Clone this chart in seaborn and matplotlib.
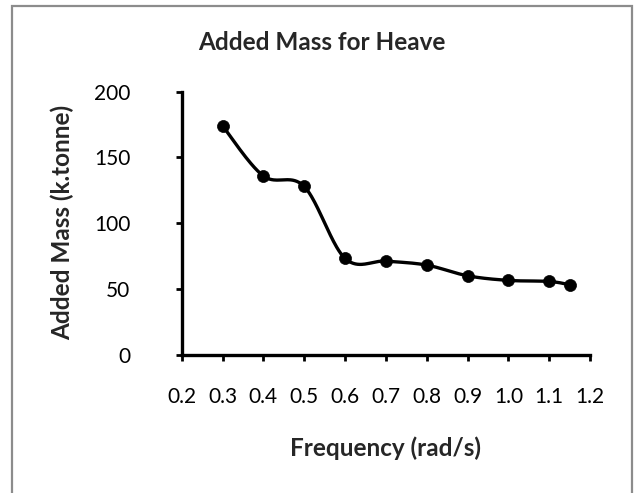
import numpy as np
import pandas as pd
import matplotlib
matplotlib.use("Agg")
import matplotlib.pyplot as plt
import seaborn as sns
from matplotlib.patches import Rectangle

# ---- data ----
frequency = [0.3, 0.4, 0.5, 0.6, 0.7, 0.8, 0.9, 1.0, 1.1, 1.15]
added_mass = [174, 136, 128, 73.5, 71.4, 68.4, 60.3, 56.8, 56, 53.5]
x_ticks = [0.2, 0.3, 0.4, 0.5, 0.6, 0.7, 0.8, 0.9, 1.0, 1.1, 1.2]
y_ticks = [0, 50, 100, 150, 200]
title = "Added Mass for Heave"
x_label = "Frequency (rad/s)"
y_label = "Added Mass (k.tonne)"


def excel_smooth(xs, ys, n=40):
    """Bezier smoothing like a spreadsheet's 'smoothed line' option."""
    P = np.column_stack([xs, ys]).astype(float)
    ext = np.vstack([P[0], P, P[-1]])
    t = np.linspace(0, 1, n)[:, None]
    out = []
    for i in range(len(P) - 1):
        p0, p3 = P[i], P[i + 1]
        c1 = p0 + (ext[i + 2] - ext[i]) / 6
        c2 = p3 - (ext[i + 3] - ext[i + 1]) / 6
        seg = (1 - t) ** 3 * p0 + 3 * (1 - t) ** 2 * t * c1 + 3 * (1 - t) * t ** 2 * c2 + t ** 3 * p3
        out.append(seg if i == 0 else seg[1:])
    return np.vstack(out)


sns.set_style("white")
plt.rcParams['font.family'] = ['Lato', 'DejaVu Sans']

W, H = 634, 493
fig = plt.figure(figsize=(W / 100, H / 100), dpi=100)
ax = fig.add_axes([181.7 / W, 1 - 355.3 / H, (590 - 181.7) / W, (355.3 - 91.5) / H])

df = pd.DataFrame({"frequency": frequency, "added_mass": added_mass})
curve = excel_smooth(frequency, added_mass)
cdf = pd.DataFrame({"x": curve[:, 0], "y": curve[:, 1]})

sns.lineplot(data=cdf, x="x", y="y", sort=False, estimator=None, color="black",
             linewidth=2.4, ax=ax, zorder=2)
sns.scatterplot(data=df, x="frequency", y="added_mass", color="black", s=75,
                edgecolor="black", linewidth=0.5, ax=ax, zorder=3, clip_on=False)

ax.set_xlim(x_ticks[0], x_ticks[-1])
ax.set_ylim(y_ticks[0], y_ticks[-1])
ax.set_xticks(x_ticks)
ax.set_xticklabels([f"{v:.1f}" for v in x_ticks])
ax.set_yticks(y_ticks)
ax.set_yticklabels([str(v) for v in y_ticks])
ax.set_xlabel("")
ax.set_ylabel("")

for s in ["top", "right"]:
    ax.spines[s].set_visible(False)
for s in ["left", "bottom"]:
    ax.spines[s].set_linewidth(2.4)
    ax.spines[s].set_color("black")

ax.tick_params(axis="x", direction="out", length=4, width=2, colors="black",
               labelsize=15, pad=19, bottom=True)
ax.tick_params(axis="y", direction="out", length=4, width=2, colors="black",
               labelsize=15, pad=33, left=True)
ax.patch.set_alpha(0)

fig.text(322 / W, 1 - 43 / H, title, ha="center", va="center",
         fontsize=17.5, fontweight="bold")
fig.text(386 / W, 1 - 448 / H, x_label, ha="center", va="center",
         fontsize=17.5, fontweight="bold")
fig.text(62 / W, 1 - 222 / H, y_label, ha="center", va="center",
         rotation=90, fontsize=17.5, fontweight="bold")

fig.add_artist(Rectangle((12 / W, -0.05), (632 - 12) / W, 1.05 - 6 / H,
                         transform=fig.transFigure, fill=False,
                         edgecolor="#8c8c8c", linewidth=1.6))

fig.savefig("out.png", dpi=100, facecolor="white")
